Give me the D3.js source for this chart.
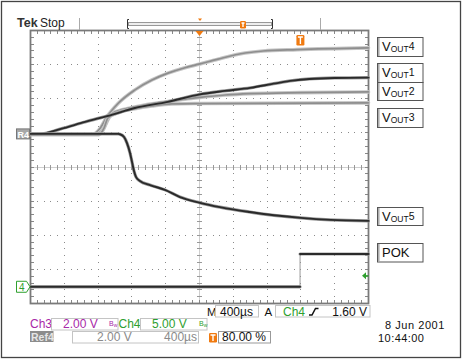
<!DOCTYPE html>
<html><head><meta charset="utf-8">
<script src="https://cdn.jsdelivr.net/npm/d3@7"></script>
<style>body{margin:0;background:#fff}svg{display:block}text{font-family:"Liberation Sans",Arial,sans-serif}</style>
</head><body><svg id="c" width="463" height="360"></svg>
<script>
// time in µs (400 µs/div, trigger at 80 %), amplitude in screen divisions
const timeDomain = [-3200, 800];
const divDomain = [-4, 4];
const vout4 = [[-3200,0.96],[-2460,0.96],[-2380,1.12],[-2295,1.47],[-2164,1.86],[-1964,2.26],[-1762,2.55],[-1573,2.75],[-1372,2.91],[-1194,3.02],[-981,3.16],[-661,3.34],[-448,3.40],[-46,3.44],[800,3.49]];
const vout1 = [[-3200,0.97],[-3090,0.97],[-2850,1.11],[-2555,1.32],[-2375,1.44],[-2295,1.49],[-1965,1.73],[-1575,1.91],[-1195,2.13],[-900,2.23],[-600,2.32],[-300,2.45],[-100,2.53],[100,2.58],[400,2.61],[800,2.62]];
const vout2 = [[-3200,0.96],[-2425,0.96],[-2330,1.15],[-2260,1.49],[-2224,1.58],[-2141,1.66],[-1964,1.76],[-1762,1.85],[-1573,1.92],[-1372,1.99],[-1194,2.04],[-899,2.11],[-602,2.15],[0,2.18],[800,2.20]];
const vout3 = [[-3200,0.95],[-2390,0.95],[-2330,1.14],[-2283,1.44],[-2141,1.61],[-1964,1.71],[-1762,1.79],[-1526,1.85],[-1194,1.86],[800,1.88]];
const vout5 = [[-3200,0.97],[-2164,0.97],[-2141,0.96],[-2093,0.88],[-2058,0.70],[-2022,0.41],[-1999,0.15],[-1975,-0.12],[-1952,-0.29],[-1905,-0.41],[-1786,-0.53],[-1609,-0.67],[-1431,-0.88],[-1194,-1.05],[-602,-1.32],[0,-1.49],[350,-1.55],[800,-1.58]];
const pok = [[-3200,-3.51],[-10,-3.51],[-10,-2.55],[800,-2.55]];
const ref4Level = 0.97;
const ch4Ground = -3.51;
const trigLevelDiv = -3.19;
const labelNames = ["4","1","2","3","5"];
const ch3Scale = "2.00 V", ch4Scale = "5.00 V", timebase = "400µs";
const trigSource = "Ch4", trigLevel = "1.60 V";
const ref4Scale = "2.00 V", ref4Time = "400µs", trigPos = "80.00 %";
const dateText = "8 Jun 2001", timeText = "10:44:00";

const svg = d3.select("#c");
const x = d3.scaleLinear().domain(timeDomain).range([30.5, 368.5]);
const y = d3.scaleLinear().domain(divDomain).range([303.5, 30.5]);
const ORANGE = "#f07a10", PURPLE = "#a828a8", GREEN = "#2ea02e", GREY = "#8a8a8a";

// outer frame
svg.append("rect").attr("x",1.5).attr("y",1.5).attr("width",459).attr("height",356)
  .attr("fill","none").attr("stroke","#444").attr("stroke-width",1.3);

// ---- graticule ----
const g = svg.append("g").attr("shape-rendering","crispEdges");
const xMaj = d3.range(timeDomain[0], timeDomain[1]+1, 400);
const xMin = d3.range(timeDomain[0], timeDomain[1]+1, 80);
const yMaj = d3.range(-4, 4.001, 1);
const yMin = d3.range(-4, 4.001, 0.2).map(v=>+v.toFixed(2));
const cx = x(-1200), cy = y(0);
const P = v => Math.floor(v);
// dots on major lines
xMaj.slice(1,-1).forEach(t=>{ if (t===-1200) return;
  yMin.slice(1,-1).forEach(v=>g.append("rect").attr("x",P(x(t))).attr("y",P(y(v))).attr("width",1).attr("height",1).attr("fill","#8a8a8a"));
});
yMaj.slice(1,-1).forEach(v=>{ if (v===0) return;
  xMin.slice(1,-1).forEach(t=>g.append("rect").attr("x",P(x(t))).attr("y",P(y(v))).attr("width",1).attr("height",1).attr("fill","#8a8a8a"));
});
// center lines with ticks
g.append("rect").attr("x",x.range()[0]).attr("y",P(cy)).attr("width",x.range()[1]-x.range()[0]).attr("height",1).attr("fill","#cfcfcf");
g.append("rect").attr("x",P(cx)).attr("y",y.range()[1]).attr("width",1).attr("height",y.range()[0]-y.range()[1]).attr("fill","#cfcfcf");
xMin.forEach(t=>g.append("rect").attr("x",P(x(t))).attr("y",P(cy)-2).attr("width",1).attr("height",5).attr("fill","#999"));
yMin.forEach(v=>g.append("rect").attr("x",P(cx)-2).attr("y",P(y(v))).attr("width",5).attr("height",1).attr("fill","#999"));
// edge ticks
xMin.forEach(t=>{
  g.append("rect").attr("x",P(x(t))).attr("y",P(y.range()[1])).attr("width",1).attr("height",4).attr("fill","#888");
  g.append("rect").attr("x",P(x(t))).attr("y",P(y.range()[0])-3).attr("width",1).attr("height",4).attr("fill","#888");
});
yMin.forEach(v=>{
  g.append("rect").attr("x",P(x.range()[0])).attr("y",P(y(v))).attr("width",4).attr("height",1).attr("fill","#888");
  g.append("rect").attr("x",P(x.range()[1])-3).attr("y",P(y(v))).attr("width",4).attr("height",1).attr("fill","#888");
});
g.append("rect").attr("x",x.range()[0]).attr("y",y.range()[1]).attr("width",x.range()[1]-x.range()[0]).attr("height",y.range()[0]-y.range()[1])
  .attr("fill","none").attr("stroke","#7a7a7a").attr("stroke-width",1.8).attr("shape-rendering","auto");

// ---- traces ----
const line = d3.line().x(d=>x(d[0])).y(d=>y(d[1])).curve(d3.curveMonotoneX);
const tr = svg.append("g").attr("fill","none").attr("stroke-linejoin","round").attr("stroke-linecap","round");
[vout4, vout2, vout3].forEach(s=>{
  tr.append("path").attr("d",line(s)).attr("stroke","#c6c6c6").attr("stroke-width",3.6);
  tr.append("path").attr("d",line(s)).attr("stroke","#8e8e8e").attr("stroke-width",1.7);
});
[vout1, vout5].forEach(s=>{
  tr.append("path").attr("d",line(s)).attr("stroke","#9a9a9a").attr("stroke-width",3.2);
  tr.append("path").attr("d",line(s)).attr("stroke","#2a2a2a").attr("stroke-width",1.9);
});
const lin = d3.line().x(d=>x(d[0])).y(d=>y(d[1]));
tr.append("path").attr("d",lin(pok)).attr("stroke","#9a9a9a").attr("stroke-width",1);
for (let i=0;i<pok.length-1;i++) if (pok[i][1]===pok[i+1][1]) {
  tr.append("path").attr("d",lin([pok[i],pok[i+1]])).attr("stroke","#a0a0a0").attr("stroke-width",3.2);
  tr.append("path").attr("d",lin([pok[i],pok[i+1]])).attr("stroke","#2a2a2a").attr("stroke-width",1.9);
}

// ---- left markers ----
const r4y = y(ref4Level);
svg.append("rect").attr("x",16.5).attr("y",r4y-5).attr("width",13).attr("height",10).attr("fill","#a8a8a8").attr("stroke","#777");
svg.append("text").attr("x",17.5).attr("y",r4y+4).attr("font-size",9).attr("font-weight","bold").attr("fill","#fff").text("R4");
const g4 = y(ch4Ground);
svg.append("path").attr("d",`M16.5,${g4-5.5}H26.5L30,${g4}L26.5,${g4+5.5}H16.5Z`).attr("fill","#fff").attr("stroke",GREEN);
svg.append("text").attr("x",19).attr("y",g4+4).attr("font-size",10).attr("fill",GREEN).text("4");
// trigger level arrow
const tl = y(trigLevelDiv);
svg.append("path").attr("d",`M362,${tl}L366,${tl-3.5}L366,${tl+3.5}Z`).attr("fill",GREEN);
svg.append("line").attr("x1",365).attr("x2",368.5).attr("y1",tl).attr("y2",tl).attr("stroke",GREEN).attr("stroke-width",1.5);

// ---- header ----
svg.append("text").attr("x",17).attr("y",27).attr("font-size",12.5).attr("font-weight","bold").attr("fill","#333").text("Tek");
svg.append("text").attr("x",40).attr("y",27).attr("font-size",12).attr("fill","#222").text("Stop");
[79.5, 320.5].forEach(xx=>svg.append("line").attr("x1",xx).attr("x2",xx).attr("y1",18).attr("y2",30).attr("stroke","#aaa"));
svg.append("rect").attr("x",128.5).attr("y",22.5).attr("width",143).attr("height",3).attr("fill","#eee").attr("stroke","#999");
svg.append("path").attr("d","M129,19.5H127.5V28.5H129").attr("fill","none").attr("stroke","#333");
svg.append("path").attr("d","M271,19.5H272.5V28.5H271").attr("fill","none").attr("stroke","#333");
svg.append("path").attr("d","M198,18.5H202L200,21Z").attr("fill",ORANGE);
function tIcon(x0,y0,w,h){
  svg.append("rect").attr("x",x0).attr("y",y0).attr("width",w).attr("height",h).attr("rx",1.2).attr("fill",ORANGE);
  svg.append("path").attr("d",`M${x0+1.5},${y0+2}H${x0+w-1.5}M${x0+w/2},${y0+2}V${y0+h-1.5}`).attr("stroke","#fff").attr("stroke-width",1.4).attr("fill","none");
}
tIcon(240,21,6,7.5);
svg.append("path").attr("d",`M${cx-4},31H${cx+4}L${cx},36Z`).attr("fill",ORANGE);
tIcon(x(0)-4.5,35,8,10.5);

// ---- right labels ----
const boxes = [[37,19],[63,19],[82,18],[108,19],[207,18]];
labelNames.forEach((n,i)=>{
  const [by,bh] = boxes[i];
  svg.append("rect").attr("x",377.5).attr("y",by+0.5).attr("width",45.5).attr("height",bh).attr("fill","#fff").attr("stroke","#555");
  svg.append("line").attr("x1",378.8).attr("x2",378.8).attr("y1",by+1).attr("y2",by+bh).attr("stroke","#aaa").attr("stroke-width",1.5);
  const t = svg.append("text").attr("x",382).attr("y",by+14).attr("font-family","'Liberation Serif','Times New Roman',serif").attr("fill","#111");
  t.append("tspan").attr("font-size",13).text("V");
  t.append("tspan").attr("font-size",8.5).attr("dy",1).text("OUT");
  t.append("tspan").attr("font-size",10.5).attr("dy",-2.5).text(n);
});
svg.append("rect").attr("x",377.5).attr("y",243.5).attr("width",45.5).attr("height",18.5).attr("fill","#fff").attr("stroke","#555");
svg.append("line").attr("x1",378.8).attr("x2",378.8).attr("y1",244).attr("y2",262).attr("stroke","#aaa").attr("stroke-width",1.5);
svg.append("text").attr("x",382).attr("y",257).attr("font-family","'Liberation Serif','Times New Roman',serif").attr("font-size",13).attr("fill","#111").text("POK");

// ---- status area ----
function box(x0,y0,w,h,stroke){ svg.append("rect").attr("x",x0).attr("y",y0).attr("width",w).attr("height",h).attr("fill","#fff").attr("stroke",stroke||"#c4c4c4"); }
function txt(x0,y0,s,col,anchor,size){ return svg.append("text").attr("x",x0).attr("y",y0).attr("font-size",size||12).attr("fill",col||"#111").attr("text-anchor",anchor||"start").text(s); }
function bw(x0,y0,col){
  const t = svg.append("text").attr("x",x0).attr("y",y0).attr("fill",col);
  t.append("tspan").attr("font-size",7).text("B");
  t.append("tspan").attr("font-size",5).attr("dy",1.5).text("w");
}
// row 1
txt(207,315.5,"M","#111","start",11.5);
box(215.5,305.5,43,11.5);
txt(220,315.5,timebase);
txt(264.5,315.5,"A","#111","start",11.5);
box(275.5,305.5,94.5,11.5);
txt(283,315.5,trigSource,GREEN);
svg.append("path").attr("d","M309,315H312L315.5,308.5H318.5").attr("fill","none").attr("stroke","#111").attr("stroke-width",1.5);
txt(367,315.5,trigLevel,"#111","end");
// row 2
txt(30,328,"Ch3",PURPLE);
box(51.5,318.5,66.5,11.5);
txt(63,328,ch3Scale,PURPLE);
bw(109,325.5,PURPLE);
txt(118.5,328,"Ch4",GREEN);
box(140.5,318.5,66.5,11.5);
txt(152,328,ch4Scale,GREEN);
bw(199,325.5,GREEN);
// row 3
svg.append("rect").attr("x",30).attr("y",331).attr("width",23.5).attr("height",11).attr("fill","#8c8c8c");
txt(31,340.5,"Ref4","#e6e6e6","start",10.5).attr("font-weight","bold");
box(72.5,331.5,126,11.5);
txt(97,341,ref4Scale,GREY);
txt(197,341,ref4Time,GREY,"end");
tIcon(209,333,8,9.5);
box(218.5,331.5,52,11.5,"#999");
txt(222,341,trigPos);
// date
txt(385,328.5,dateText,"#111","start",11).attr("letter-spacing",0.55);
txt(378,341.5,timeText,"#111","start",11).attr("letter-spacing",0.45);
</script></body></html>
